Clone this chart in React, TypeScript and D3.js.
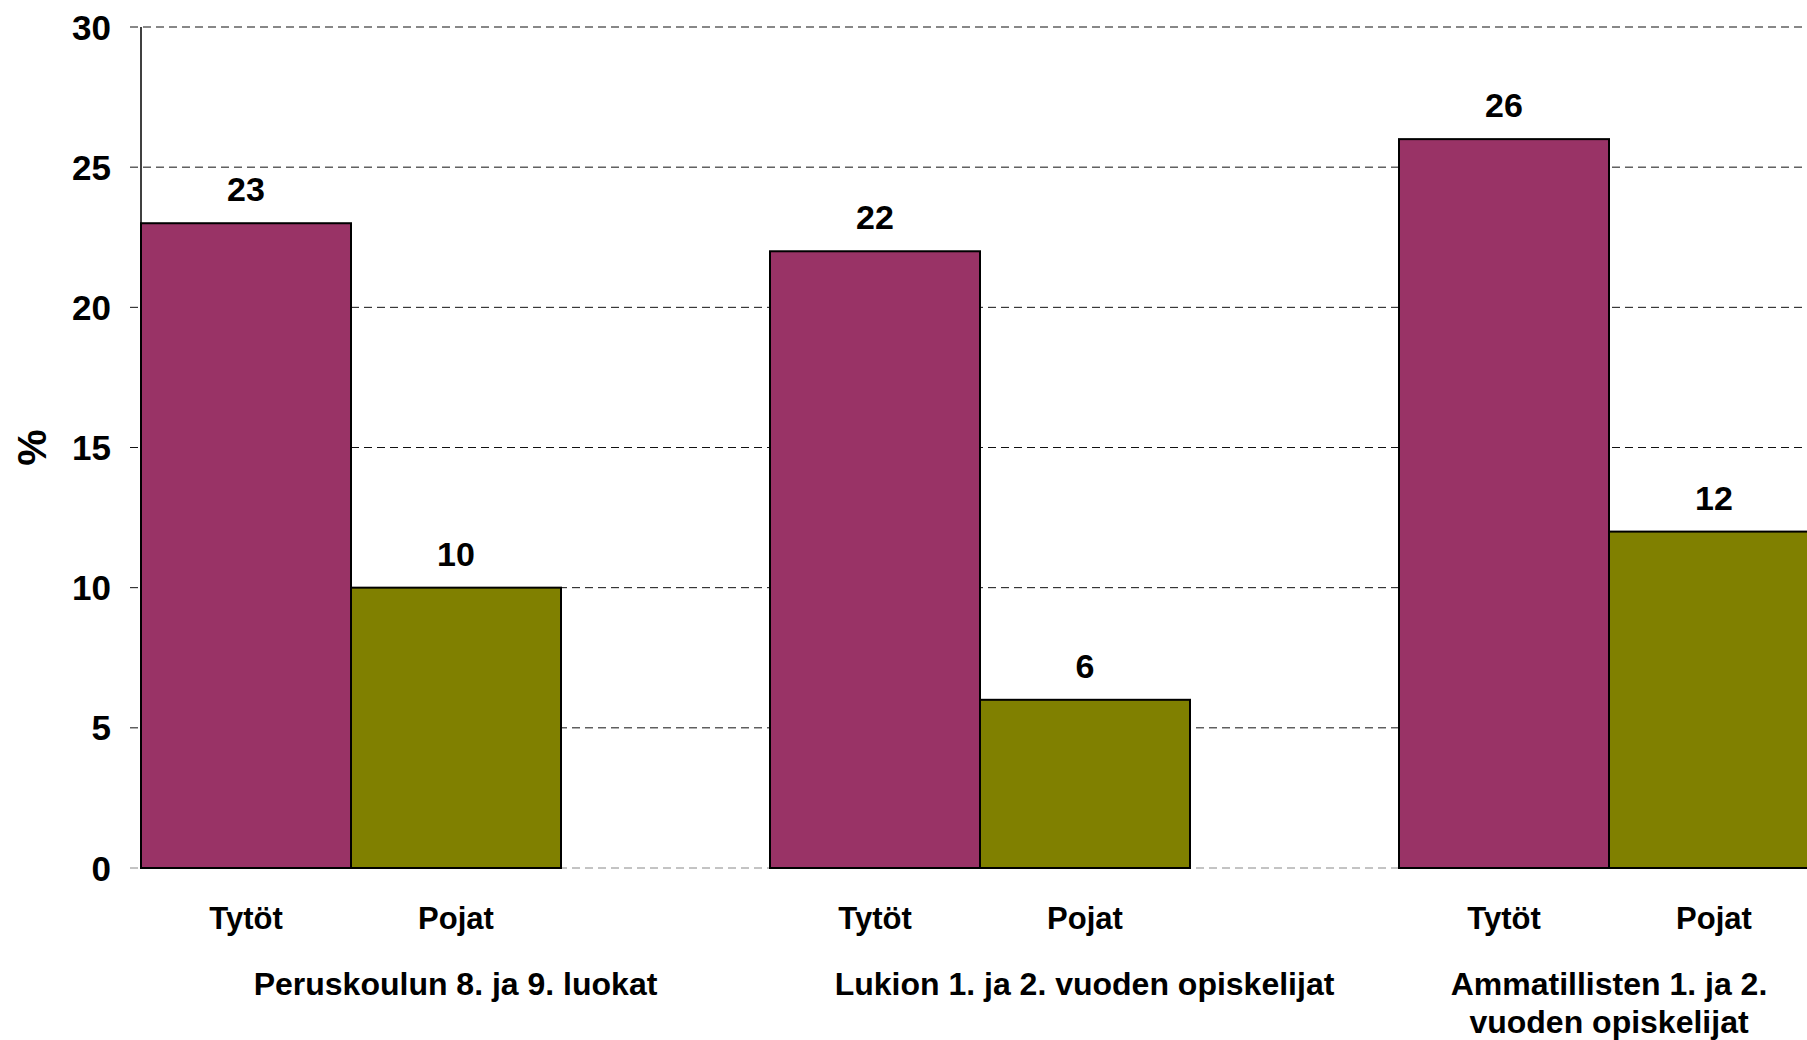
import { scaleBand, scaleLinear } from 'd3';

const categories = ['Peruskoulu', 'Lukio', 'Ammatilliset'];
const categoryLines = [
    ['Peruskoulun 8. ja 9. luokat'],
    ['Lukion 1. ja 2. vuoden opiskelijat'],
    ['Ammatillisten 1. ja 2.', 'vuoden opiskelijat'],
];
const seriesNames = ['Tytöt', 'Pojat'];
const tytot = [23, 22, 26];
const pojat = [10, 6, 12];
const yTicks = [0, 5, 10, 15, 20, 25, 30];

const colors = ['#993366', '#808000'];
const font = '"Liberation Sans", Arial, sans-serif';

const W = 1807;
const H = 1040;
const left = 141;

const App = () => {
    const y = scaleLinear().domain([0, 30]).range([868, 27]);

    const x0 = scaleBand<string>()
        .domain(categories)
        .range([left, 1819])
        .paddingInner(209 / 629)
        .paddingOuter(0);

    const x1 = scaleBand<string>()
        .domain(seriesNames)
        .range([0, x0.bandwidth()]);

    const values = [tytot, pojat];

    return (
        <svg
            width={W}
            height={H}
            style={{ position: 'absolute', left: 0, top: 0, background: '#fff' }}
            fontFamily={font}
            fontWeight="bold"
        >
            {/* grid lines */}
            {yTicks.map(t => (
                <line
                    key={'g' + t}
                    x1={130}
                    x2={W}
                    y1={y(t)}
                    y2={y(t)}
                    stroke={t === 0 ? '#888' : '#111'}
                    strokeWidth={1}
                    strokeDasharray="8,5"
                />
            ))}
            {/* y tick labels */}
            {yTicks.map(t => (
                <text
                    key={'t' + t}
                    x={111}
                    y={y(t)}
                    dy="0.36em"
                    textAnchor="end"
                    fontSize={35}
                >
                    {t}
                </text>
            ))}
            <text
                transform={`translate(31, ${(y(0) + y(30)) / 2}) rotate(-90)`}
                textAnchor="middle"
                dy="0.36em"
                fontSize={41}
            >
                %
            </text>

            {/* bars */}
            {categories.map((c, ci) => (
                <g key={c} transform={`translate(${x0(c)}, 0)`}>
                    {seriesNames.map((s, si) => {
                        const v = values[si][ci];
                        const bx = x1(s) as number;
                        return (
                            <g key={s}>
                                <rect
                                    x={bx}
                                    y={y(v)}
                                    width={x1.bandwidth()}
                                    height={y(0) - y(v)}
                                    fill={colors[si]}
                                    stroke="#000"
                                    strokeWidth={2}
                                />
                                <text
                                    x={bx + x1.bandwidth() / 2}
                                    y={y(v) - 22}
                                    textAnchor="middle"
                                    fontSize={34}
                                >
                                    {v}
                                </text>
                                <text
                                    x={bx + x1.bandwidth() / 2}
                                    y={929}
                                    textAnchor="middle"
                                    fontSize={31}
                                >
                                    {s}
                                </text>
                            </g>
                        );
                    })}
                </g>
            ))}

            {/* axis line */}
            <line x1={left} x2={left} y1={y(30)} y2={y(0)} stroke="#000" strokeWidth={1.5} />

            {/* category labels */}
            {categories.map((c, ci) => {
                const lines = categoryLines[ci];
                const cx = lines.length > 1
                    ? (x0(c) as number) + x0.bandwidth() / 2
                    : (x0(c) as number) + x0.step() / 2;
                return (
                    <text key={'c' + c} x={cx} y={995} textAnchor="middle" fontSize={32}>
                        {lines.map((l, li) => (
                            <tspan key={li} x={cx} dy={li === 0 ? 0 : 38}>
                                {l}
                            </tspan>
                        ))}
                    </text>
                );
            })}
        </svg>
    );
};

export default App;
